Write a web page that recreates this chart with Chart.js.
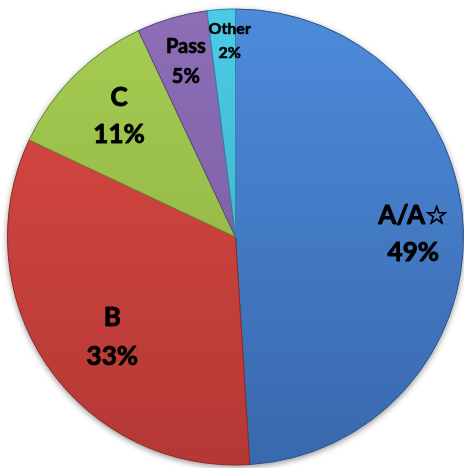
<!DOCTYPE html>
<html>
<head>
<meta charset="utf-8">
<script src="https://cdn.jsdelivr.net/npm/chart.js@4"></script>
<style>
  html, body { margin: 0; padding: 0; background: #fff; }
  #wrap { width: 464px; height: 468px; position: relative; }
</style>
</head>
<body>
<div id="wrap"><canvas id="gradePie"></canvas></div>
<script>
// grade distribution
const grades = ["A/A\u2606", "B", "C", "Pass", "Other"];
const shares = [49, 33, 11, 5, 2];

// slice colours, top and bottom of the gradient
const topColors = ["#4d8bda", "#dc4a43", "#a6cd52", "#8d6eb7", "#4ccbe6"];
const bottomColors = ["#3868ad", "#b43834", "#89aa40", "#72589b", "#39a4c0"];
const edgeColors = ["#2c5590", "#8e2a27", "#6c8a2e", "#5a4580", "#2c8aa3"];

// label placement along each slice (fraction of radius, angle nudge in deg)
const labelRadius = [0.78, 0.695, 0.735, 0.80, 0.86];
const labelNudge = [1, -4.8, 1, 0.4, 1.9];
const labelSize = [26, 26, 26, 20, 16];
const labelStep = [37, 39, 37, 30, 24];

const pieShadow = {
  id: "pieShadow",
  beforeDatasetsDraw(chart) {
    const arc = chart.getDatasetMeta(0).data[0];
    if (!arc) return;
    const ctx = chart.ctx;
    ctx.save();
    ctx.beginPath();
    ctx.arc(arc.x, arc.y, arc.outerRadius, 0, Math.PI * 2);
    ctx.shadowColor = "rgba(0,0,0,0.45)";
    ctx.shadowBlur = 6;
    ctx.shadowOffsetX = 0;
    ctx.shadowOffsetY = 2;
    ctx.fillStyle = "#888";
    ctx.fill();
    ctx.restore();
  },
};

const sliceLabels = {
  id: "sliceLabels",
  afterDatasetsDraw(chart) {
    const ctx = chart.ctx;
    const meta = chart.getDatasetMeta(0);
    const total = shares.reduce((a, b) => a + b, 0);
    ctx.save();
    ctx.fillStyle = "#000";
    ctx.strokeStyle = "#000";
    ctx.lineJoin = "round";
    ctx.textAlign = "center";
    ctx.textBaseline = "middle";
    meta.data.forEach(function (arc, i) {
      const mid = (arc.startAngle + arc.endAngle) / 2 + (labelNudge[i] * Math.PI) / 180;
      const r = arc.outerRadius * labelRadius[i];
      const x = arc.x + Math.cos(mid) * r;
      const y = arc.y + Math.sin(mid) * r;
      const pct = Math.round((shares[i] / total) * 100) + "%";
      ctx.font = "bold " + labelSize[i] + "px Lato, 'DejaVu Sans', sans-serif";
      ctx.lineWidth = labelSize[i] * 0.035;
      [[grades[i], y - labelStep[i] / 2], [pct, y + labelStep[i] / 2]].forEach(function (ln) {
        ctx.fillText(ln[0], x, ln[1]);
        ctx.strokeText(ln[0], x, ln[1]);
      });
    });
    ctx.restore();
  },
};

function sliceGradient(context) {
  const chart = context.chart;
  const area = chart.chartArea;
  const i = context.dataIndex;
  if (!area) return topColors[i];
  const g = chart.ctx.createLinearGradient(0, area.top, 0, area.bottom);
  g.addColorStop(0, topColors[i]);
  g.addColorStop(1, bottomColors[i]);
  return g;
}

new Chart(document.getElementById("gradePie").getContext("2d"), {
  type: "pie",
  data: {
    labels: grades,
    datasets: [
      {
        data: shares,
        backgroundColor: sliceGradient,
        borderColor: edgeColors,
        borderWidth: 1,
      },
    ],
  },
  options: {
    responsive: true,
    maintainAspectRatio: false,
    animation: false,
    layout: { padding: { left: 7, right: 0, top: 8, bottom: 2 } },
    plugins: {
      legend: { display: false },
      tooltip: { enabled: false },
    },
  },
  plugins: [pieShadow, sliceLabels],
});
</script>
</body>
</html>
